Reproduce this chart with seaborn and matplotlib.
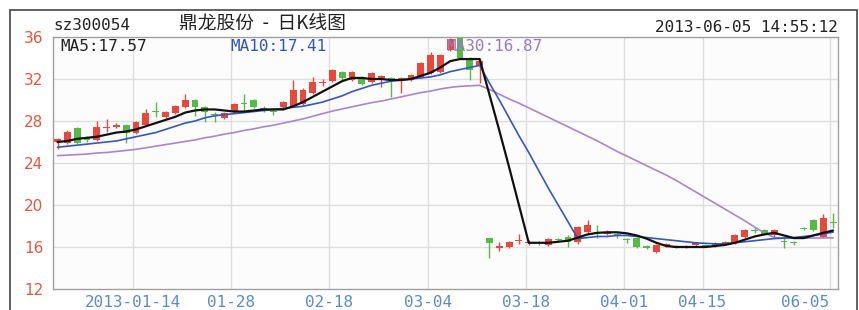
import numpy as np
import pandas as pd
import matplotlib
matplotlib.use("Agg")

import matplotlib.pyplot as plt
import matplotlib.transforms as mtransforms
from matplotlib.patches import Rectangle
import seaborn as sns

# 日K线 data, one entry per trading day
opens = [26.0, 25.9, 27.3, 26.4, 26.2, 27.3, 27.4, 27.6, 26.9, 27.6,
         29.0, 28.4, 28.8, 29.3, 30.0, 29.3, 28.7, 28.3, 28.9, 29.75,
         30.0, 29.25, 29.0, 29.3, 29.4, 29.6, 30.7, 31.6, 31.8, 32.7,
         31.9, 32.2, 31.7, 32.1, 32.05, 31.9, 31.9, 32.2, 32.6, 32.7,
         34.8, 35.9, 34.0, 33.2,
         16.85, 15.95, 16.0, 16.55, 16.35, 16.45, 16.2, 16.8, 17.0, 16.5,
         17.4, 17.45, 17.25, 17.25, 16.8, 16.9, 16.1, 15.5, 16.1, 16.1,
         16.0, 16.2, 16.2, 16.15, 16.3, 16.4, 17.0, 17.65, 17.6, 17.1,
         16.6, 16.5, 17.8, 18.6, 17.0, 18.35]
closes = [26.3, 27.0, 25.9, 26.2, 27.4, 27.45, 27.6, 26.9, 27.9, 28.8,
          28.85, 28.9, 29.4, 30.0, 29.3, 28.9, 28.6, 28.8, 29.6, 29.65,
          29.3, 29.15, 28.9, 29.8, 31.0, 31.0, 31.7, 31.75, 32.9, 32.1,
          32.7, 31.5, 32.6, 32.25, 31.95, 32.05, 32.4, 33.5, 34.3, 34.3,
          35.8, 34.0, 32.9, 33.7,
          16.4, 16.05, 16.5, 16.65, 16.45, 16.35, 16.8, 16.65, 16.5, 17.9,
          18.1, 17.35, 17.4, 17.1, 16.65, 16.0, 15.95, 16.2, 16.25, 15.95,
          16.1, 16.35, 16.1, 16.25, 16.45, 17.1, 17.6, 17.55, 17.2, 17.6,
          16.5, 16.35, 17.7, 17.6, 18.8, 18.25]
highs = [26.4, 27.1, 27.4, 26.6, 28.0, 28.2, 27.8, 27.7, 28.0, 29.1,
         29.8, 29.0, 29.5, 30.6, 30.1, 29.4, 28.9, 28.9, 29.7, 30.6,
         30.1, 29.4, 29.1, 29.9, 31.9, 31.1, 32.2, 32.0, 33.0, 32.8,
         32.8, 32.3, 32.7, 32.4, 32.2, 32.2, 32.5, 33.6, 34.6, 34.4,
         35.9, 36.0, 34.1, 33.9,
         16.9, 16.5, 16.6, 17.2, 16.7, 16.6, 16.9, 16.9, 17.1, 18.0,
         18.6, 18.1, 17.6, 17.3, 16.9, 17.0, 16.2, 16.3, 16.4, 16.2,
         16.2, 16.5, 16.3, 16.5, 16.6, 17.2, 17.7, 17.9, 17.7, 17.7,
         17.0, 16.6, 17.9, 18.7, 19.1, 19.2]
lows = [25.3, 25.8, 25.8, 26.0, 26.1, 27.0, 27.3, 25.9, 26.8, 27.5,
        28.4, 28.3, 28.7, 29.2, 28.5, 27.9, 27.9, 28.2, 28.8, 28.9,
        29.2, 28.9, 28.6, 29.2, 29.3, 29.5, 30.6, 31.3, 31.7, 31.9,
        31.8, 31.4, 31.6, 31.2, 30.3, 30.7, 31.8, 32.1, 32.5, 32.6,
        34.7, 33.9, 31.9, 31.6,
        15.0, 15.6, 15.9, 16.3, 16.2, 16.2, 16.1, 16.5, 16.0, 16.3,
        17.3, 16.9, 17.1, 16.9, 16.4, 15.9, 15.8, 15.4, 16.0, 15.9,
        15.9, 16.1, 16.0, 16.0, 16.2, 16.3, 16.9, 17.3, 17.1, 17.0,
        15.9, 16.2, 17.6, 17.5, 16.9, 17.8]

ma5 = [26.0, 26.1, 26.3, 26.4, 26.5, 26.7, 26.9, 27.0, 27.2, 27.5,
       27.8, 28.1, 28.4, 28.8, 29.0, 29.1, 29.1, 29.0, 28.9, 28.9,
       29.0, 29.1, 29.1, 29.1, 29.4, 29.8, 30.3, 30.8, 31.3, 31.8,
       32.1, 32.1, 32.0, 32.0, 31.9, 31.9, 32.0, 32.3, 32.6, 33.1,
       33.7, 33.9, 33.9, 33.9,
       30.5, 27.1, 23.6, 20.0, 16.4, 16.4, 16.4, 16.5, 16.6, 16.9,
       17.2, 17.35, 17.4, 17.4, 17.3, 17.1, 16.8, 16.4, 16.1, 16.0,
       16.0, 16.0, 16.0, 16.1, 16.2, 16.4, 16.7, 17.0, 17.2, 17.35,
       17.1, 16.85, 16.85, 17.1, 17.35, 17.57]
ma10 = [25.5, 25.6, 25.7, 25.8, 25.9, 26.0, 26.1, 26.3, 26.5, 26.7,
        26.9, 27.2, 27.5, 27.8, 28.0, 28.3, 28.5, 28.6, 28.7, 28.8,
        28.9, 29.0, 29.1, 29.2, 29.3, 29.4, 29.6, 29.8, 30.1, 30.4,
        30.8, 31.1, 31.4, 31.6, 31.8, 31.9, 32.0, 32.1, 32.2, 32.4,
        32.7, 32.9, 33.1, 33.3,
        31.6, 30.0, 28.3, 26.6, 25.0, 23.3, 21.6, 20.0, 18.4, 16.8,
        16.9, 17.0, 17.0, 17.1, 17.1, 17.0, 16.9, 16.8, 16.7, 16.6,
        16.5, 16.4, 16.35, 16.3, 16.3, 16.4, 16.5, 16.6, 16.7, 16.8,
        16.85, 16.9, 17.0, 17.1, 17.25, 17.41]
ma30 = [24.7, 24.75, 24.8, 24.85, 24.95, 25.0, 25.1, 25.2, 25.3, 25.45,
        25.6, 25.75, 25.9, 26.05, 26.2, 26.4, 26.55, 26.75, 26.9, 27.1,
        27.25, 27.45, 27.6, 27.8, 28.0, 28.2, 28.45, 28.7, 28.95, 29.15,
        29.35, 29.55, 29.75, 29.9, 30.1, 30.3, 30.5, 30.7, 30.85, 31.05,
        31.2, 31.3, 31.35, 31.4,
        31.0, 30.55, 30.1, 29.7, 29.25, 28.8, 28.35, 27.9, 27.45, 27.0,
        26.55, 26.1, 25.6, 25.1, 24.65, 24.2, 23.75, 23.3, 22.85, 22.35,
        21.8, 21.25, 20.7, 20.15, 19.6, 19.05, 18.5, 17.9, 17.35, 16.9,
        16.85, 16.85, 16.85, 16.85, 16.86, 16.87]

tick_pos = [7.7, 17.7, 27.7, 37.7, 47.7, 57.7, 65.7, 78.7]
tick_labels = ["2013-01-14", "01-28", "02-18", "03-04", "03-18", "04-01", "04-15", "06-05"]
y_ticks = [12, 16, 20, 24, 28, 32, 36]

df = pd.DataFrame({"open": opens, "close": closes, "high": highs, "low": lows,
                   "ma5": ma5, "ma10": ma10, "ma30": ma30})
df["day"] = np.arange(len(df))
df["up"] = df["close"] >= df["open"]

RED = "#e8473b"
GREEN = "#55bb45"

sns.set_style("white")
mono = ["DejaVu Sans Mono"]
cjk = ["Noto Sans CJK SC", "DejaVu Sans"]

fig = plt.figure(figsize=(8.59, 3.10), dpi=100)
ax = fig.add_axes([53 / 859, 21 / 310, 785 / 859, 252 / 310])
ax.set_facecolor("#fcfcfc")

# grid
for y in y_ticks[1:-1]:
    ax.axhline(y, color="#dedede", lw=1, zorder=0)
for x in tick_pos:
    ax.axvline(x, color="#dedede", lw=1, zorder=0)

# candles
colors = np.where(df["up"], RED, GREEN)
ax.vlines(df["day"], df["low"], df["high"], colors=colors, lw=1, zorder=2)
body_lo = np.minimum(df["open"], df["close"])
body_h = np.maximum((df["close"] - df["open"]).abs(), 0.08)
ax.bar(df["day"], body_h, bottom=body_lo, width=0.7, color=colors, lw=0, zorder=3)

# moving averages
sns.lineplot(data=df, x="day", y="ma30", color="#a985d2", lw=1.2, ax=ax, zorder=4)
sns.lineplot(data=df, x="day", y="ma10", color="#3557c0", lw=1.2, ax=ax, zorder=5)
sns.lineplot(data=df, x="day", y="ma5", color="#111111", lw=1.6, ax=ax, zorder=6)

ax.set_xlim(-0.46, 79.5)
ax.set_ylim(12, 36)
ax.set_xlabel("")
ax.set_ylabel("")
ax.set_yticks(y_ticks)
ax.set_yticklabels([str(v) for v in y_ticks], color="#e8553a", fontsize=11)
ax.set_xticks(tick_pos)
ax.set_xticklabels(tick_labels, color="#5a8ccc", fontsize=11.5, family=mono)
ax.tick_params(axis="both", length=0)
ax.tick_params(axis="y", pad=7)
ax.tick_params(axis="x", pad=4)
# last label sits left of its grid line
last = ax.get_xticklabels()[-1]
last.set_transform(last.get_transform() + mtransforms.ScaledTranslation(-25 / 100, 0, fig.dpi_scale_trans))

for s in ax.spines.values():
    s.set_color("#a0a0a0")
    s.set_linewidth(1)

# MA legend text
ax.text(0.009, 0.962, "MA5:17.57", transform=ax.transAxes, color="#222222",
        fontsize=11.5, family=mono, va="center", ha="left", zorder=7)
ax.text(0.2255, 0.962, "MA10:17.41", transform=ax.transAxes, color="#3355bb",
        fontsize=11.5, family=mono, va="center", ha="left", zorder=7)
ax.text(0.5006, 0.962, "MA30:16.87", transform=ax.transAxes, color="#9a7cc0",
        fontsize=11.5, family=mono, va="center", ha="left", zorder=7)

# header
fig.text(53 / 859, 1 - 25 / 310, "sz300054", fontsize=11.5, family=mono,
         color="#222222", ha="left", va="center")
fig.text(262 / 859, 1 - 23 / 310, "鼎龙股份  -  日K线图", fontsize=13.5, family=cjk,
         color="#222222", ha="center", va="center")
fig.text(838 / 859, 1 - 27 / 310, "2013-06-05 14:55:12", fontsize=11.5, family=mono,
         color="#222222", ha="right", va="center")

# outer frame
fig.add_artist(Rectangle((10 / 859, -0.02), 847 / 859, 1 - 10 / 310 + 0.02,
                         transform=fig.transFigure, fill=False,
                         edgecolor="#555555", lw=1.3))

fig.savefig("out.png", dpi=100)
